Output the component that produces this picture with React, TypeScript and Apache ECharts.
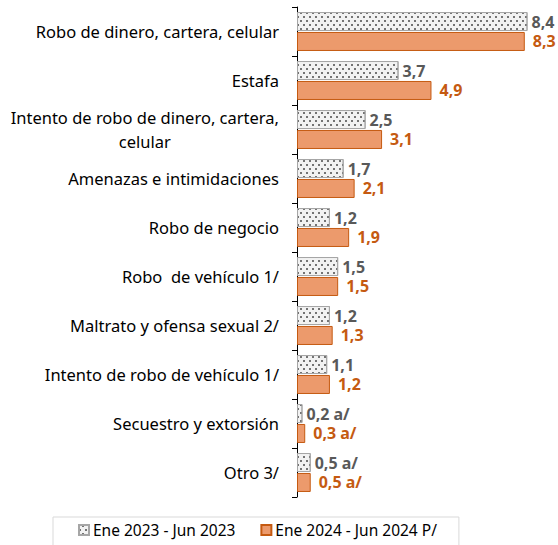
import React, { useEffect, useRef } from "react";
import * as echarts from "echarts";

const categories = [
  "Robo de dinero, cartera, celular",
  "Estafa",
  "Intento de robo de dinero, cartera,\ncelular",
  "Amenazas e intimidaciones",
  "Robo de negocio",
  "Robo  de vehículo 1/",
  "Maltrato y ofensa sexual 2/",
  "Intento de robo de vehículo 1/",
  "Secuestro y extorsión",
  "Otro 3/",
];
const series2023 = [8.4, 3.7, 2.5, 1.7, 1.2, 1.5, 1.2, 1.1, 0.2, 0.5];
const series2024 = [8.3, 4.9, 3.1, 2.1, 1.9, 1.5, 1.3, 1.2, 0.3, 0.5];
const notes2023 = ["", "", "", "", "", "", "", "", " a/", " a/"];
const notes2024 = ["", "", "", "", "", "", "", "", " a/", " a/"];
const seriesNames = ["Ene 2023 - Jun 2023", "Ene 2024 - Jun 2024 P/"];

const FONT = "'Noto Sans', sans-serif";
const fmt = (v: number) => v.toFixed(1).replace(".", ",");

export default function App() {
  const ref = useRef<HTMLDivElement>(null);
  useEffect(() => {
    if (!ref.current) return;
    const chart = echarts.init(ref.current, undefined, { renderer: "svg" });
    chart.setOption({
      animation: false,
      textStyle: { fontFamily: FONT },
      grid: { left: 297, right: 14, top: 7, bottom: 48, containLabel: false },
      legend: {
        left: 53,
        top: 517,
        width: 405,
        padding: [5, 22, 10, 25],
        borderColor: "#d9d9d9",
        borderWidth: 1,
        itemWidth: 10,
        itemHeight: 10,
        itemGap: 25,
        icon: "rect",
        textStyle: { fontFamily: FONT, fontSize: 15.5, color: "#000", padding: [0, 0, 0, -1] },
        data: seriesNames,
      },
      xAxis: {
        type: "value",
        min: 0,
        max: 9,
        show: false,
      },
      yAxis: {
        type: "category",
        inverse: true,
        data: categories,
        axisLine: { show: true, lineStyle: { color: "#000", width: 1 } },
        axisTick: { show: true, inside: false, length: 5, lineStyle: { color: "#000" } },
        axisLabel: {
          margin: 18,
          fontSize: 16.5,
          color: "#000",
          fontFamily: FONT,
          lineHeight: 24,
          formatter: (v: string) =>
            v
              .split("\n")
              .map((s) => "{c|" + s + "}")
              .join("\n"),
          rich: { c: { align: "center", fontSize: 16.5, fontFamily: FONT, color: "#000", lineHeight: 24 } },
        },
        splitLine: { show: false },
      },
      series: [
        {
          name: seriesNames[0],
          type: "bar",
          data: series2023,
          barWidth: 19,
          barGap: "5%",
          itemStyle: {
            color: "#f2f2f2",
            borderColor: "#a6a6a6",
            borderWidth: 1,
            decal: {
              symbol: "rect",
              symbolSize: 1,
              color: "#737373",
              dashArrayX: [
                [2, 4],
                [0, 3, 2, 1],
              ],
              dashArrayY: [2, 2],
            },
          },
          label: {
            show: true,
            position: "right",
            distance: 4,
            color: "#595959",
            fontWeight: "bold",
            fontSize: 16,
            fontFamily: FONT,
            formatter: (p: any) => fmt(p.value) + notes2023[p.dataIndex],
          },
        },
        {
          name: seriesNames[1],
          type: "bar",
          data: series2024,
          barWidth: 19,
          barGap: "5%",
          itemStyle: { color: "#EC9A6C", borderColor: "#C55A11", borderWidth: 1 },
          label: {
            show: true,
            position: "right",
            distance: 8,
            color: "#C55A11",
            fontWeight: "bold",
            fontSize: 16,
            fontFamily: FONT,
            formatter: (p: any) => fmt(p.value) + notes2024[p.dataIndex],
          },
        },
      ],
    });
    return () => chart.dispose();
  }, []);
  return <div ref={ref} style={{ width: 558, height: 545, position: "absolute", left: 0, top: 0 }} />;
}
